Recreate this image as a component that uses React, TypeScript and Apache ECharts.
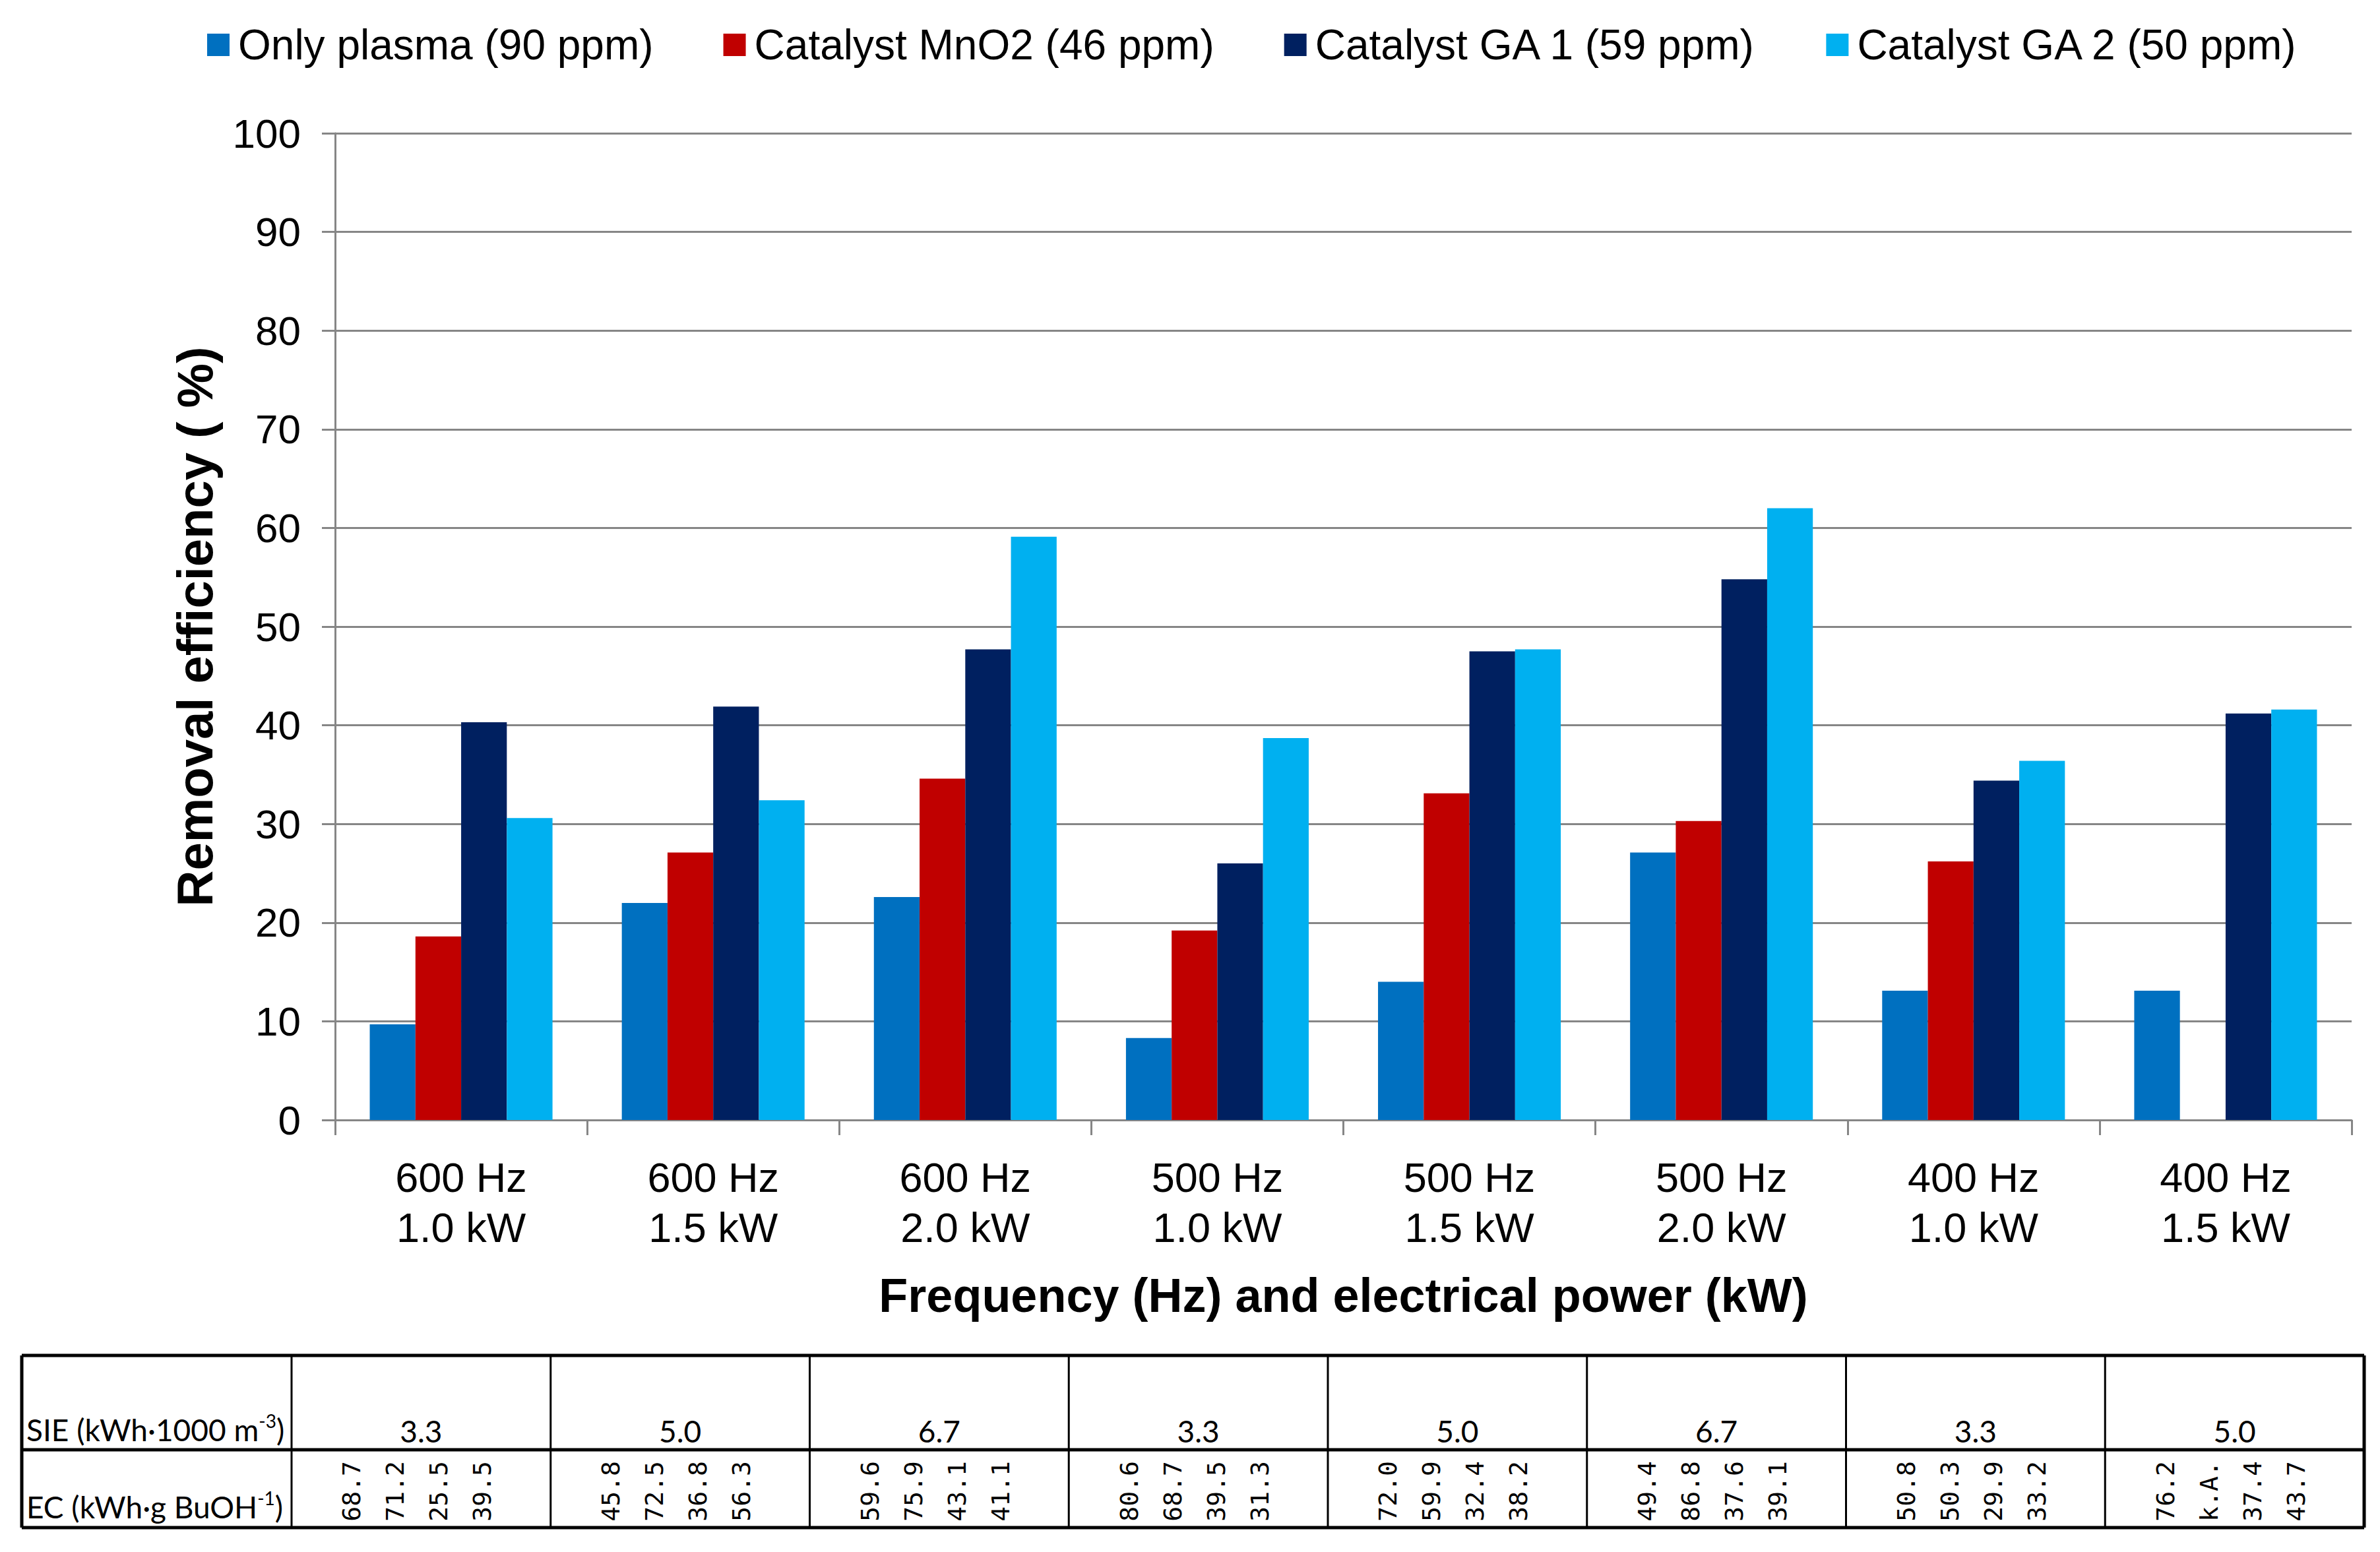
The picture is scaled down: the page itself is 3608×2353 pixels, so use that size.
import React, { useEffect, useRef } from 'react';
import * as echarts from 'echarts';

const categories = [
  '600 Hz\n1.0 kW',
  '600 Hz\n1.5 kW',
  '600 Hz\n2.0 kW',
  '500 Hz\n1.0 kW',
  '500 Hz\n1.5 kW',
  '500 Hz\n2.0 kW',
  '400 Hz\n1.0 kW',
  '400 Hz\n1.5 kW',
];
const seriesNames = [
  'Only plasma (90 ppm)',
  'Catalyst MnO2 (46 ppm)',
  'Catalyst GA 1 (59 ppm)',
  'Catalyst GA 2 (50 ppm)',
];
const seriesColors = ['#0070C0', '#C00000', '#002060', '#00B0F0'];
const onlyPlasma = [9.7, 22.0, 22.6, 8.3, 14.0, 27.1, 13.1, 13.1];
const catalystMnO2 = [18.6, 27.1, 34.6, 19.2, 33.1, 30.3, 26.2, null];
const catalystGA1 = [40.3, 41.9, 47.7, 26.0, 47.5, 54.8, 34.4, 41.2];
const catalystGA2 = [30.6, 32.4, 59.1, 38.7, 47.7, 62.0, 36.4, 41.6];

const yMin = 0;
const yMax = 100;
const yInterval = 10;

const yAxisTitle = 'Removal efficiency ( %)';
const xAxisTitle = 'Frequency (Hz) and electrical power (kW)';

const sieLabel = 'SIE (kWh·1000 m{sup|-3})';
const ecLabel = 'EC (kWh·g BuOH{sup|-1})';
const sieValues = ['3.3', '5.0', '6.7', '3.3', '5.0', '6.7', '3.3', '5.0'];
const ecValues = [
  ['68.7', '71.2', '25.5', '39.5'],
  ['45.8', '72.5', '36.8', '56.3'],
  ['59.6', '75.9', '43.1', '41.1'],
  ['80.6', '68.7', '39.5', '31.3'],
  ['72.0', '59.9', '32.4', '38.2'],
  ['49.4', '86.8', '37.6', '39.1'],
  ['50.8', '50.3', '29.9', '33.2'],
  ['76.2', 'k.A.', '37.4', '43.7'],
];

const FONT = '"Liberation Sans", Arial, sans-serif';
const TABLE_FONT = 'Lato, "Open Sans", sans-serif';
const MONO_FONT = '"DejaVu Sans Mono", "Liberation Mono", monospace';

function buildTable(): any[] {
  const left = 33;
  const firstColRight = 442;
  const right = 3584;
  const top = 2055;
  const mid = 2198;
  const bottom = 2316;
  const n = sieValues.length;
  const colW = (right - firstColRight) / n;
  const els: any[] = [];
  const line = (x1: number, y1: number, x2: number, y2: number, w: number) => ({
    type: 'line',
    shape: { x1, y1, x2, y2 },
    style: { stroke: '#000', lineWidth: w },
    silent: true,
  });
  els.push(line(left, top, right, top, 5));
  els.push(line(left, mid, right, mid, 5));
  els.push(line(left, bottom, right, bottom, 5));
  els.push(line(left, top, left, bottom, 5));
  els.push(line(right, top, right, bottom, 5));
  els.push(line(firstColRight, top, firstColRight, bottom, 3));
  for (let i = 1; i < n; i++) {
    const x = firstColRight + colW * i;
    els.push(line(x, top, x, bottom, 3));
  }
  const richSup = {
    sup: { fontSize: 28, fontFamily: TABLE_FONT, verticalAlign: 'top', lineHeight: 54, fill: '#000' },
  };
  els.push({
    type: 'text',
    x: 40,
    y: mid - 4,
    style: {
      text: sieLabel,
      font: `46px ${TABLE_FONT}`,
      fill: '#000',
      align: 'left',
      verticalAlign: 'bottom',
      lineHeight: 54,
      rich: richSup,
    },
    silent: true,
  });
  els.push({
    type: 'text',
    x: 40,
    y: bottom - 5,
    style: {
      text: ecLabel,
      font: `46px ${TABLE_FONT}`,
      fill: '#000',
      align: 'left',
      verticalAlign: 'bottom',
      lineHeight: 54,
      rich: richSup,
    },
    silent: true,
  });
  for (let i = 0; i < n; i++) {
    const cx = firstColRight + colW * (i + 0.5);
    els.push({
      type: 'text',
      x: cx,
      y: mid - 6,
      style: {
        text: sieValues[i],
        font: `46px ${TABLE_FONT}`,
        fill: '#000',
        align: 'center',
        verticalAlign: 'bottom',
      },
      silent: true,
    });
    els.push({
      type: 'text',
      x: cx - 6,
      y: 2261,
      rotation: Math.PI / 2,
      style: {
        text: ecValues[i].join('\n'),
        font: `38px ${MONO_FONT}`,
        fill: '#000',
        align: 'center',
        verticalAlign: 'middle',
        lineHeight: 66,
      },
      silent: true,
    });
  }
  return els;
}

export default function App() {
  const ref = useRef<HTMLDivElement>(null);
  useEffect(() => {
    document.body.style.margin = '0';
    if (!ref.current) return;
    const chart = echarts.init(ref.current, undefined, { renderer: 'svg' });
    const seriesData = [onlyPlasma, catalystMnO2, catalystGA1, catalystGA2];
    chart.setOption({
      animation: false,
      backgroundColor: '#ffffff',
      color: seriesColors,
      legend: {
        left: 309,
        top: 31,
        itemWidth: 34,
        itemHeight: 34,
        itemGap: 106,
        icon: 'rect',
        data: seriesNames,
        textStyle: { fontSize: 64, fontFamily: FONT, color: '#000', padding: [0, 0, 0, 8] },
      },
      grid: { left: 508, right: 43, top: 202, bottom: 655, containLabel: false },
      xAxis: {
        type: 'category',
        data: categories,
        name: xAxisTitle,
        nameLocation: 'middle',
        nameGap: 230,
        nameTextStyle: { fontSize: 72, fontWeight: 'bold', fontFamily: FONT, color: '#000' },
        axisLine: { show: true, lineStyle: { color: '#868686', width: 3 } },
        axisTick: { show: true, length: 23, lineStyle: { color: '#868686', width: 3 } },
        axisLabel: { fontSize: 63, fontFamily: FONT, color: '#000', lineHeight: 76, margin: 49 },
      },
      yAxis: {
        type: 'value',
        min: yMin,
        max: yMax,
        interval: yInterval,
        name: yAxisTitle,
        nameLocation: 'middle',
        nameGap: 175,
        nameTextStyle: { fontSize: 76, fontWeight: 'bold', fontFamily: FONT, color: '#000' },
        axisLine: { show: true, lineStyle: { color: '#868686', width: 3 } },
        axisTick: { show: true, length: 20, lineStyle: { color: '#868686', width: 3 } },
        axisLabel: { fontSize: 62, fontFamily: FONT, color: '#000', margin: 52 },
        splitLine: { show: true, lineStyle: { color: '#868686', width: 3 } },
      },
      series: seriesNames.map((name, i) => ({
        name,
        type: 'bar',
        data: seriesData[i],
        barGap: '0%',
        barCategoryGap: '27.5%',
        itemStyle: { color: seriesColors[i] },
      })),
      graphic: buildTable(),
    });
    return () => chart.dispose();
  }, []);
  return <div ref={ref} style={{ width: 3608, height: 2353 }} />;
}
